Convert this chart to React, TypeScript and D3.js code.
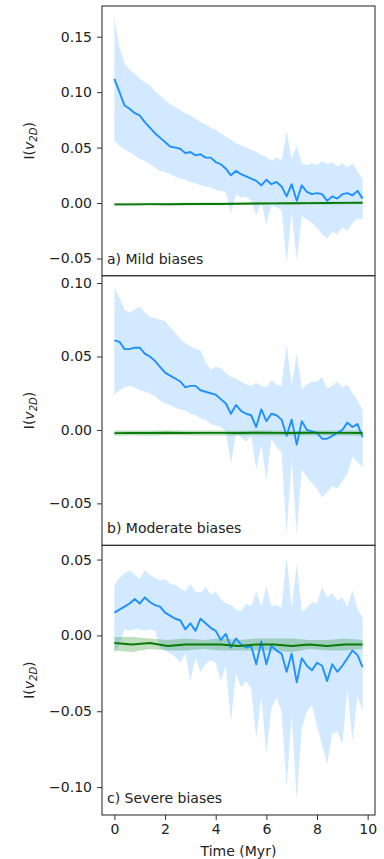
import React, { useEffect, useRef } from "react";
import * as d3 from "d3";

// time grid (Myr)
const times = [0, 0.2, 0.4, 0.6, 0.8, 1.0, 1.2, 1.4, 1.6, 1.8, 2.0, 2.2, 2.4, 2.6, 2.8, 3.0, 3.2, 3.4, 3.6, 3.8,
  4.0, 4.2, 4.4, 4.6, 4.8, 5.0, 5.2, 5.4, 5.6, 5.8, 6.0, 6.2, 6.4, 6.6, 6.8, 7.0, 7.2, 7.4, 7.6, 7.8,
  8.0, 8.2, 8.4, 8.6, 8.8, 9.0, 9.2, 9.4, 9.6, 9.8];
const greenTimes = [0, 0.7, 1.4, 2.1, 2.8, 3.5, 4.2, 4.9, 5.6, 6.3, 7.0, 7.7, 8.4, 9.1, 9.8];

// a) Mild biases
const mildMean = [0.112, 0.100, 0.088, 0.085, 0.081, 0.079, 0.073, 0.068, 0.063, 0.059, 0.055, 0.051, 0.050, 0.049, 0.045, 0.046, 0.043, 0.044, 0.041, 0.041,
  0.037, 0.035, 0.031, 0.025, 0.029, 0.026, 0.024, 0.022, 0.020, 0.016, 0.021, 0.017, 0.019, 0.015, 0.006, 0.017, 0.002, 0.016, 0.010, 0.008,
  0.009, 0.008, 0.002, 0.006, 0.004, 0.008, 0.009, 0.007, 0.011, 0.004];
const mildUpper = [0.167, 0.140, 0.126, 0.120, 0.117, 0.112, 0.109, 0.106, 0.101, 0.097, 0.093, 0.089, 0.087, 0.084, 0.081, 0.079, 0.076, 0.073, 0.071, 0.068,
  0.066, 0.063, 0.060, 0.057, 0.054, 0.052, 0.050, 0.048, 0.046, 0.043, 0.042, 0.038, 0.041, 0.038, 0.065, 0.040, 0.052, 0.036, 0.034, 0.036,
  0.034, 0.038, 0.035, 0.037, 0.033, 0.036, 0.032, 0.036, 0.029, 0.022];
const mildLower = [0.056, 0.052, 0.048, 0.046, 0.043, 0.040, 0.038, 0.035, 0.032, 0.029, 0.028, 0.026, 0.024, 0.022, 0.021, 0.019, 0.018, 0.016, 0.015, 0.014,
  0.012, 0.011, 0.010, -0.009, 0.008, 0.005, 0.006, 0.002, -0.011, 0.001, -0.019, -0.002, -0.004, -0.006, -0.054, -0.008, -0.052, -0.012, -0.015, -0.018,
  -0.022, -0.028, -0.032, -0.026, -0.028, -0.022, -0.025, -0.018, -0.014, -0.015];
const mildGreen = [-0.0012, -0.0012, -0.0010, -0.0011, -0.0009, -0.0008, -0.0008, -0.0006, -0.0004, -0.0003, -0.0002, -0.0001, 0.0000, 0.0002, 0.0003];
const mildGreenUp = [0.0000, 0.0000, 0.0002, 0.0001, 0.0003, 0.0004, 0.0004, 0.0006, 0.0008, 0.0009, 0.0010, 0.0011, 0.0012, 0.0014, 0.0015];
const mildGreenLo = [-0.0024, -0.0024, -0.0022, -0.0023, -0.0021, -0.0020, -0.0020, -0.0018, -0.0016, -0.0015, -0.0014, -0.0013, -0.0012, -0.0010, -0.0009];

// b) Moderate biases
const modMean = [0.061, 0.060, 0.055, 0.055, 0.056, 0.056, 0.052, 0.050, 0.047, 0.043, 0.039, 0.037, 0.035, 0.033, 0.029, 0.030, 0.030, 0.027, 0.026, 0.025,
  0.024, 0.021, 0.018, 0.011, 0.017, 0.013, 0.011, 0.010, 0.002, 0.014, 0.006, 0.011, 0.010, 0.007, -0.004, 0.007, -0.010, 0.006, 0.000, -0.001,
  -0.002, -0.006, -0.006, -0.004, -0.002, 0.000, 0.005, 0.002, 0.004, -0.005];
const modUpper = [0.097, 0.090, 0.082, 0.080, 0.082, 0.084, 0.080, 0.077, 0.076, 0.075, 0.074, 0.070, 0.066, 0.062, 0.059, 0.057, 0.055, 0.054, 0.046, 0.041,
  0.043, 0.042, 0.039, 0.036, 0.035, 0.033, 0.031, 0.030, 0.032, 0.030, 0.029, 0.034, 0.031, 0.030, 0.058, 0.031, 0.052, 0.028, 0.031, 0.033,
  0.033, 0.036, 0.028, 0.030, 0.033, 0.029, 0.031, 0.025, 0.020, 0.014];
const modLower = [0.024, 0.027, 0.029, 0.030, 0.029, 0.027, 0.026, 0.025, 0.023, 0.020, 0.018, 0.017, 0.015, 0.014, 0.013, 0.011, 0.010, 0.008, 0.007, 0.004,
  0.003, 0.002, -0.001, -0.023, -0.003, -0.005, -0.008, -0.004, -0.027, -0.010, -0.034, -0.006, -0.012, -0.015, -0.071, -0.020, -0.071, -0.027, -0.032, -0.036,
  -0.040, -0.046, -0.042, -0.038, -0.040, -0.035, -0.030, -0.018, -0.022, -0.025];
const modGreen = [-0.0022, -0.0020, -0.0021, -0.0019, -0.0021, -0.0020, -0.0020, -0.0021, -0.0019, -0.0020, -0.0021, -0.0019, -0.0020, -0.0020, -0.0021];
const modGreenUp = [-0.0004, -0.0003, -0.0004, -0.0003, -0.0004, -0.0004, -0.0004, -0.0005, -0.0003, -0.0004, -0.0005, -0.0003, -0.0004, -0.0004, -0.0005];
const modGreenLo = [-0.0040, -0.0038, -0.0039, -0.0036, -0.0038, -0.0037, -0.0037, -0.0038, -0.0036, -0.0037, -0.0038, -0.0036, -0.0037, -0.0037, -0.0038];

// c) Severe biases
const sevMean = [0.015, 0.017, 0.019, 0.021, 0.024, 0.021, 0.025, 0.022, 0.020, 0.019, 0.015, 0.013, 0.011, 0.010, 0.004, 0.008, 0.003, 0.011, 0.008, 0.005,
  0.003, -0.003, 0.001, -0.008, -0.002, -0.006, -0.008, -0.007, -0.019, -0.004, -0.019, -0.007, -0.010, -0.012, -0.024, -0.012, -0.031, -0.015, -0.020, -0.023,
  -0.018, -0.020, -0.030, -0.019, -0.024, -0.020, -0.015, -0.010, -0.013, -0.021];
const sevUpper = [0.033, 0.038, 0.041, 0.043, 0.040, 0.037, 0.043, 0.040, 0.038, 0.036, 0.037, 0.034, 0.033, 0.031, 0.029, 0.034, 0.029, 0.028, 0.032, 0.027,
  0.029, 0.024, 0.021, 0.020, 0.017, 0.016, 0.021, 0.019, 0.029, 0.019, 0.032, 0.019, 0.020, 0.018, 0.052, 0.018, 0.047, 0.016, 0.018, 0.022,
  0.021, 0.032, 0.025, 0.028, 0.023, 0.025, 0.019, 0.030, 0.017, 0.012];
const sevLower = [-0.012, -0.006, 0.004, 0.003, 0.004, 0.004, 0.003, 0.004, 0.003, -0.008, -0.010, -0.012, -0.014, -0.018, -0.012, -0.030, -0.015, -0.024, -0.019, -0.016,
  -0.018, -0.030, -0.020, -0.057, -0.025, -0.034, -0.030, -0.035, -0.068, -0.040, -0.078, -0.048, -0.041, -0.050, -0.100, -0.052, -0.109, -0.061, -0.050, -0.046,
  -0.060, -0.072, -0.085, -0.065, -0.063, -0.072, -0.035, -0.070, -0.040, -0.050];
const sevGreen = [-0.005, -0.006, -0.005, -0.007, -0.006, -0.006, -0.006, -0.007, -0.006, -0.006, -0.007, -0.006, -0.007, -0.006, -0.006];
const sevGreenUp = [-0.001, -0.001, -0.002, -0.003, -0.002, -0.003, -0.002, -0.003, -0.002, -0.002, -0.002, -0.003, -0.003, -0.002, -0.003];
const sevGreenLo = [-0.010, -0.011, -0.009, -0.010, -0.010, -0.009, -0.010, -0.010, -0.010, -0.010, -0.011, -0.009, -0.010, -0.010, -0.009];

const panelLabels = ["a) Mild biases", "b) Moderate biases", "c) Severe biases"];
const yTicks = [
  [-0.05, 0, 0.05, 0.1, 0.15],
  [-0.05, 0, 0.05, 0.1],
  [-0.1, -0.05, 0, 0.05],
];
const yDomains = [
  [-0.0655, 0.1777],
  [-0.0786, 0.105],
  [-0.1184, 0.0594],
];
const xTicks = [0, 2, 4, 6, 8, 10];

const panels = [
  { mean: mildMean, upper: mildUpper, lower: mildLower, g: mildGreen, gUp: mildGreenUp, gLo: mildGreenLo },
  { mean: modMean, upper: modUpper, lower: modLower, g: modGreen, gUp: modGreenUp, gLo: modGreenLo },
  { mean: sevMean, upper: sevUpper, lower: sevLower, g: sevGreen, gUp: sevGreenUp, gLo: sevGreenLo },
];

const W = 384;
const H = 859;
const left = 102;
const right = 375;
const tops = [6, 275.7, 545.3];
const panelH = 269.7;
const font = "DejaVu Sans, sans-serif";

export default function App() {
  const ref = useRef<SVGSVGElement>(null);

  useEffect(() => {
    const svg = d3.select(ref.current);
    svg.selectAll("*").remove();

    const x = d3.scaleLinear().domain([-0.49, 10.29]).range([left, right]);

    panels.forEach((p, i) => {
      const top = tops[i];
      const y = d3.scaleLinear().domain(yDomains[i]).range([top + panelH, top]);
      const g = svg.append("g");

      const blueBand = times.map((t, k) => ({ t, lo: p.lower[k], hi: p.upper[k], m: p.mean[k] }));
      const greenBand = greenTimes.map((t, k) => ({ t, lo: p.gLo[k], hi: p.gUp[k], m: p.g[k] }));

      const area = d3.area<any>().x(d => x(d.t)).y0(d => y(d.lo)).y1(d => y(d.hi));
      const line = d3.line<any>().x(d => x(d.t)).y(d => y(d.m));

      g.append("path").attr("d", area(blueBand)).attr("fill", "#1e90ff").attr("fill-opacity", 0.2);
      g.append("path").attr("d", area(greenBand)).attr("fill", "#008000").attr("fill-opacity", 0.25);
      g.append("path").attr("d", line(blueBand)).attr("fill", "none")
        .attr("stroke", "#1e90ff").attr("stroke-width", 1.9).attr("stroke-linejoin", "round");
      g.append("path").attr("d", line(greenBand)).attr("fill", "none")
        .attr("stroke", "#0a7a0a").attr("stroke-width", 1.9).attr("stroke-linejoin", "round");

      // y axis
      const yAxis = g.append("g")
        .attr("transform", `translate(${left},0)`)
        .call(d3.axisLeft(y).tickValues(yTicks[i]).tickFormat(d3.format(".2f")).tickSize(5).tickPadding(5));
      yAxis.select(".domain").remove();
      yAxis.selectAll("line").attr("stroke", "#333");
      yAxis.selectAll("text").style("font-size", "14px").style("font-family", font).attr("fill", "#222");

      // frame
      g.append("rect")
        .attr("x", left).attr("y", top)
        .attr("width", right - left).attr("height", panelH)
        .attr("fill", "none").attr("stroke", "#333").attr("stroke-width", 1.1);

      g.append("text")
        .attr("x", left + 5).attr("y", top + panelH - 12)
        .style("font-size", "14px").style("font-family", font).attr("fill", "#222")
        .text(panelLabels[i]);

      // y label I(v_2D)
      const lab = g.append("text")
        .attr("transform", `translate(34,${top + panelH / 2}) rotate(-90)`)
        .attr("text-anchor", "middle")
        .style("font-size", "14px").style("font-family", font).attr("fill", "#222");
      lab.append("tspan").text("I(");
      lab.append("tspan").style("font-style", "italic").text("v");
      lab.append("tspan").style("font-style", "italic").style("font-size", "10px").attr("dy", 3).text("2D");
      lab.append("tspan").attr("dy", -3).text(")");

      if (i === 2) {
        const xAxis = g.append("g")
          .attr("transform", `translate(0,${top + panelH})`)
          .call(d3.axisBottom(x).tickValues(xTicks).tickFormat(d3.format("d")).tickSize(5).tickPadding(4));
        xAxis.select(".domain").remove();
        xAxis.selectAll("line").attr("stroke", "#333");
        xAxis.selectAll("text").style("font-size", "14px").style("font-family", font).attr("fill", "#222");

        g.append("text")
          .attr("x", (left + right) / 2).attr("y", 856)
          .attr("text-anchor", "middle")
          .style("font-size", "14px").style("font-family", font).attr("fill", "#222")
          .text("Time (Myr)");
      }
    });
  }, []);

  return (
    <svg ref={ref} width={W} height={H}
      style={{ position: "absolute", left: 0, top: 0, background: "#fff" }} />
  );
}
